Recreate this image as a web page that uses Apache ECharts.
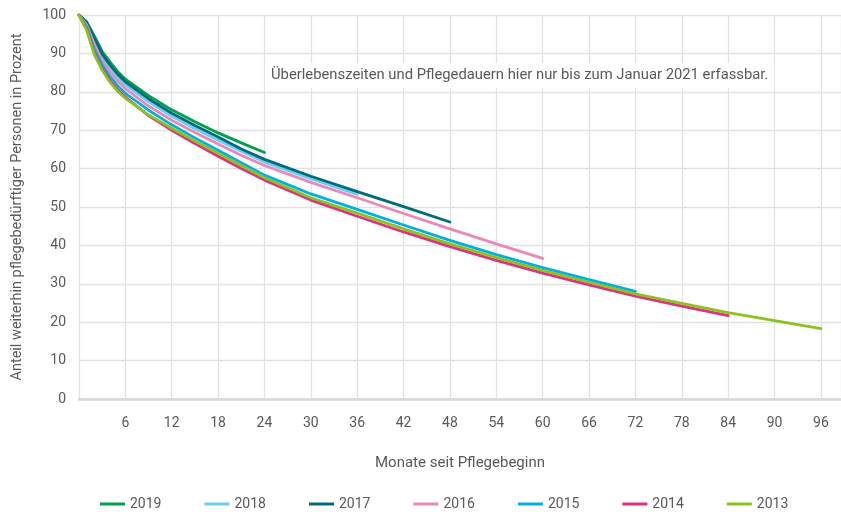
<!DOCTYPE html>
<html>
<head>
<meta charset="utf-8">
<title>Pflegedauer</title>
<script src="https://cdn.jsdelivr.net/npm/echarts@6/dist/echarts.min.js"></script>
<style>
  html, body { margin: 0; padding: 0; background: #fff; }
  #chart { width: 841px; height: 512px; }
</style>
</head>
<body>
<div id="chart"></div>
<script>
// Monate seit Pflegebeginn (Stützstellen)
var months = [0, 1, 2, 3, 4, 5, 6, 9, 12, 15, 18, 21, 24, 30, 36, 42, 48, 54, 60, 66, 72, 78, 84, 90, 96];

// Anteil weiterhin pflegebedürftiger Personen in Prozent, je Jahrgang
var y2019 = [100, 98.2, 94.5, 90.5, 87.8, 85.3, 83.3, 79.0, 75.3, 72.2, 69.3, 66.7, 64.2];
var y2018 = [100, 97.8, 93.3, 89.0, 86.2, 83.8, 81.8, 77.4, 73.6, 70.4, 67.4, 64.5, 61.7, 57.4, 53.3];
var y2017 = [100, 98.0, 94.0, 89.8, 87.0, 84.6, 82.6, 78.2, 74.4, 71.2, 68.2, 65.1, 62.4, 58.0, 54.0, 50.1, 46.1];
var y2016 = [100, 97.4, 92.3, 88.0, 85.2, 82.8, 80.8, 76.3, 72.6, 69.4, 66.4, 63.5, 60.8, 56.4, 52.4, 48.3, 44.3, 40.4, 36.6];
var y2015 = [100, 96.8, 91.0, 87.0, 84.0, 81.6, 79.6, 75.2, 71.4, 68.0, 64.8, 61.5, 58.3, 53.4, 49.4, 45.3, 41.3, 37.6, 34.2, 31.1, 28.0];
var y2014 = [100, 96.3, 90.0, 86.0, 83.0, 80.5, 78.6, 73.8, 70.0, 66.5, 63.2, 60.0, 57.0, 51.8, 47.6, 43.5, 39.7, 36.1, 32.8, 29.7, 26.8, 24.2, 21.7];
var y2013 = [100, 96.0, 89.6, 85.6, 82.5, 80.1, 78.3, 74.0, 70.5, 67.2, 64.0, 60.8, 57.6, 52.4, 48.4, 44.3, 40.4, 36.8, 33.5, 30.4, 27.4, 24.9, 22.5, 20.4, 18.3];

var years = ['2019', '2018', '2017', '2016', '2015', '2014', '2013'];
var values = [y2019, y2018, y2017, y2016, y2015, y2014, y2013];
var colors = ['#00a14b', '#6fcdf2', '#006b7d', '#ea88b6', '#00b0e0', '#e2307f', '#8cc21f'];

var yTicks = [0, 10, 20, 30, 40, 50, 60, 70, 80, 90, 100];

var textColor = '#595959';
var fontName = 'Roboto';

function pairs(arr) {
    return arr.map(function (v, i) { return [months[i], v]; });
}

var chart = echarts.init(document.getElementById('chart'));

var series = years.map(function (y, i) {
    return {
        name: y,
        type: 'line',
        data: pairs(values[i]),
        showSymbol: false,
        smooth: false,
        lineStyle: { color: colors[i], width: 2.8, join: 'round', cap: 'round' },
        itemStyle: { color: colors[i] },
        z: 2 + i
    };
});

var option = {
    animation: false,
    textStyle: { fontFamily: fontName },
    grid: {
        left: 79,
        right: 0,
        top: 15,
        bottom: 113
    },
    legend: {
        data: years,
        bottom: -4,
        left: 95,
        icon: 'rect',
        itemWidth: 25,
        itemHeight: 3,
        itemGap: 43,
        textStyle: { color: textColor, fontSize: 14, fontFamily: fontName }
    },
    xAxis: {
        type: 'value',
        min: 0,
        max: 98.6,
        interval: 6,
        name: 'Monate seit Pflegebeginn',
        nameLocation: 'middle',
        nameGap: 57,
        nameTextStyle: { color: textColor, fontSize: 15 },
        axisLine: { show: true, lineStyle: { color: '#d9d9d9', width: 2.5 } },
        axisTick: { show: false },
        axisLabel: {
            color: textColor,
            fontSize: 14,
            margin: 17,
            showMaxLabel: false,
            formatter: function (v) { return (v > 0 && v % 6 === 0) ? String(v) : ''; }
        },
        splitLine: { show: true, lineStyle: { color: '#e2e2e2', width: 1.3 } }
    },
    yAxis: {
        type: 'value',
        min: yTicks[0],
        max: yTicks[yTicks.length - 1],
        interval: 10,
        name: 'Anteil weiterhin pflegebedürftiger Personen in Prozent',
        nameLocation: 'middle',
        nameGap: 54,
        nameTextStyle: { color: textColor, fontSize: 14.5 },
        axisLine: { show: false },
        axisTick: { show: false },
        axisLabel: { color: textColor, fontSize: 14, margin: 13 },
        splitLine: { show: true, lineStyle: { color: '#e2e2e2', width: 1.3 } }
    },
    graphic: [
        {
            type: 'text',
            left: 265,
            top: 63,
            z: 100,
            style: {
                text: 'Überlebenszeiten und Pflegedauern hier nur bis zum Januar 2021 erfassbar.',
                fill: textColor,
                font: '14.8px ' + fontName,
                backgroundColor: '#ffffff',
                padding: [5, 6, 5, 6]
            }
        }
    ],
    series: series
};

chart.setOption(option);
window.onresize = chart.resize;
</script>
</body>
</html>
